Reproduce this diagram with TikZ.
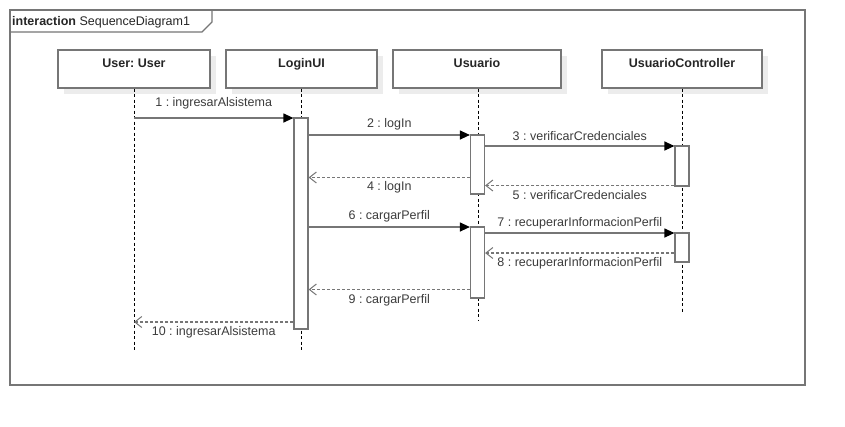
\documentclass[tikz,border=0pt]{standalone}
\usepackage{fontspec}
\setmainfont{Liberation Sans}
\usetikzlibrary{arrows.meta,shadows}
\definecolor{umlline}{RGB}{118,118,118}
\definecolor{umlshadow}{RGB}{236,236,236}
\definecolor{umltext}{RGB}{60,60,60}
\newcommand\umlfont{\fontsize{12.5pt}{15pt}\selectfont}
\frenchspacing
\begin{document}
\begin{tikzpicture}[x=1pt,y=-1pt,font=\umlfont,
  frame/.style={draw=umlline,line width=1.2pt},
  head/.style={draw=umlline,line width=1.2pt,fill=white,minimum height=38pt,
    inner ysep=4.5pt,text height=12.5pt,text depth=16.5pt,text=black!85,
    font=\umlfont\bfseries,
    drop shadow={shadow xshift=6pt,shadow yshift=-6pt,fill=umlshadow,opacity=1}},
  life/.style={draw=black,line width=0.9pt,dash pattern=on 3pt off 2.5pt},
  act/.style={draw=umlline,line width=1.2pt,fill=white,minimum width=14pt,inner sep=0pt},
  call/.style={draw=umlline,line width=1.2pt,-{Triangle[length=10pt,width=9pt,color=black]}},
  reply/.style={draw=umlline,line width=1.2pt,dash pattern=on 3pt off 2pt,
    -{Straight Barb[length=7pt,width=11pt,line width=1pt]}},
  lbl/.style={text=umltext,inner sep=2pt}]
  \useasboundingbox[fill=white] (0,0) rectangle (845,426);

  \draw[frame] (10,10) rectangle (805,385);
  \draw[frame] (10,32) -- (202,32) -- (212,22) -- (212,10);
  \node[anchor=base west,inner sep=0pt,text=black!85] (title) at (12,25) {\textbf{interaction} SequenceDiagram1};

  \node[head,minimum width=152pt] (hUser) at (134,69) {User: User};
  \node[head,minimum width=151pt] (hLogin) at (301.5,69) {LoginUI};
  \node[head,minimum width=168pt] (hUs) at (477,69) {Usuario};
  \node[head,minimum width=160pt] (hUC) at (682,69) {UsuarioController};

  \coordinate (eUser) at (134,350);
  \coordinate (eLogin) at (301.5,350);
  \coordinate (eUs) at (478,320);
  \coordinate (eUC) at (682,314);
  \draw[life] (hUser.south) -- (eUser);
  \draw[life] (hLogin.south) -- (eLogin);
  \draw[life] (hUs.south -| eUs) -- (eUs);
  \draw[life] (hUC.south) -- (eUC);

  \node[act,minimum height=211pt] (aLogin) at (301,223.5) {};
  \node[act,minimum height=59pt] (aUs1) at (477.5,164.5) {};
  \node[act,minimum height=40pt] (aUC1) at (682,166) {};
  \node[act,minimum height=71pt] (aUs2) at (477.5,262.5) {};
  \node[act,minimum height=29pt] (aUC2) at (682,247.5) {};

  \coordinate (m1) at (0,118);
  \coordinate (m2) at (0,135);
  \coordinate (m3) at (0,146);
  \coordinate (m4) at (0,177.5);
  \coordinate (m5) at (0,185.5);
  \coordinate (m6) at (0,227);
  \coordinate (m7) at (0,233);
  \coordinate (m8) at (0,253);
  \coordinate (m9) at (0,289.5);
  \coordinate (m10) at (0,322);

  \draw[call] (hUser |- m1) -- (aLogin.west |- m1) node[lbl,midway,above=6.5pt] {1 : ingresarAlsistema};
  \draw[call] (aLogin.east |- m2) -- (aUs1.west |- m2) node[lbl,midway,above=2.5pt] {2 : logIn};
  \draw[call] (aUs1.east |- m3) -- (aUC1.west |- m3) node[lbl,midway,above=2.5pt] {3 : verificarCredenciales};
  \draw[reply] (aUs1.west |- m4) -- (aLogin.east |- m4) node[lbl,midway,below=1.5pt] {4 : logIn};
  \draw[reply] (aUC1.west |- m5) -- (aUs1.east |- m5) node[lbl,midway,below=2pt] {5 : verificarCredenciales};
  \draw[call] (aLogin.east |- m6) -- (aUs2.west |- m6) node[lbl,midway,above=2.5pt] {6 : cargarPerfil};
  \draw[call] (aUs2.east |- m7) -- (aUC2.west |- m7) node[lbl,midway,above=1.5pt] {7 : recuperarInformacionPerfil};
  \draw[reply] (aUC2.west |- m8) -- (aUs2.east |- m8) node[lbl,midway,below=2pt] {8 : recuperarInformacionPerfil};
  \draw[reply] (aUs2.west |- m9) -- (aLogin.east |- m9) node[lbl,midway,below=2pt] {9 : cargarPerfil};
  \draw[reply] (aLogin.west |- m10) -- (hUser |- m10) node[lbl,midway,below=1.5pt] {10 : ingresarAlsistema};
\end{tikzpicture}
\end{document}
